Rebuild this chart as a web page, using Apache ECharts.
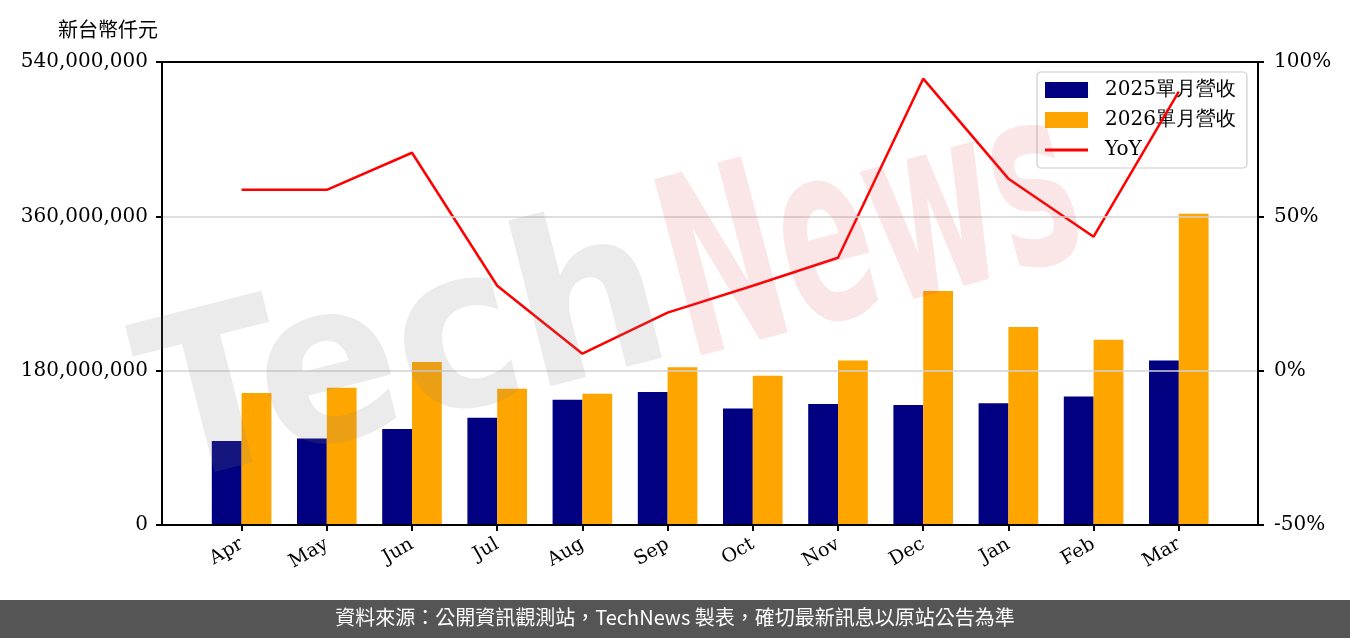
<!DOCTYPE html>
<html>
<head>
<meta charset="utf-8">
<script src="https://cdn.jsdelivr.net/npm/echarts@6/dist/echarts.min.js"></script>
<style>
html,body{margin:0;padding:0;background:#fff;}
#chart{width:1350px;height:638px;}
</style>
</head>
<body>
<div id="chart"></div>
<script>
const months = ['Apr','May','Jun','Jul','Aug','Sep','Oct','Nov','Dec','Jan','Feb','Mar'];
const rev2025 = [98000000,101000000,112000000,125000000,146000000,155000000,136000000,141000000,140000000,142000000,150000000,192000000];
const rev2026 = [154000000,160000000,190000000,159000000,153000000,184000000,174000000,192000000,273000000,231000000,216000000,363000000];
const yoy = [58.6,58.6,70.6,27.5,5.5,18.8,27.5,36.6,94.6,62.2,43.4,90.4];
const leftTicks = {min:0, max:540000000, interval:180000000};
const rightTicks = {min:-50, max:100, interval:50};
const seriesNames = ['2025單月營收','2026單月營收','YoY'];
const unitLabel = '新台幣仟元';
const footerText = '資料來源：公開資訊觀測站，TechNews 製表，確切最新訊息以原站公告為準';

const serif = '"DejaVu Serif", "Liberation Serif", serif';
const chart = echarts.init(document.getElementById('chart'));
const axisBlack = {show:true, onZero:false, lineStyle:{color:'#000', width:2}};
const tickBlack = {show:true, length:6, inside:false, lineStyle:{color:'#000', width:2}};
const hidden = {show:false};

chart.setOption({
  animation:false,
  backgroundColor:'#fff',
  title:{text:unitLabel, left:53, top:14,
    textStyle:{fontFamily:'"Noto Sans CJK TC", sans-serif', fontSize:20, fontWeight:'normal', color:'#000'}},
  legend:{
    orient:'vertical', left:1037, top:72, padding:[8,11,8,8], itemGap:10,
    itemWidth:43, itemHeight:16, z:1,
    backgroundColor:'rgba(255,255,255,0.8)', borderColor:'#cccccc', borderWidth:1.2, borderRadius:4,
    textStyle:{fontFamily:serif, fontSize:20, color:'#000', lineHeight:20, padding:[0,0,0,12]},
    data:[
      {name:seriesNames[0], icon:'rect'},
      {name:seriesNames[1], icon:'rect'},
      {name:seriesNames[2], icon:'path://M0,0 M0,16 M0,6.5 L43,6.5 L43,9.5 L0,9.5 Z'}
    ]
  },
  grid:[
    {left:162, top:62, width:1096, height:463},
    {left:199, top:62, width:1022.4, height:463}
  ],
  xAxis:[
    {gridIndex:0, type:'category', data:months, position:'bottom', z:10,
     axisLine:axisBlack, axisTick:hidden, axisLabel:hidden, splitLine:hidden},
    {gridIndex:0, type:'category', data:months, position:'top', z:10,
     axisLine:axisBlack, axisTick:hidden, axisLabel:hidden, splitLine:hidden},
    {gridIndex:1, type:'category', data:months, boundaryGap:true,
     axisLine:{show:false, onZero:false}, axisTick:Object.assign({alignWithLabel:true}, tickBlack),
     axisLabel:{rotate:30, fontFamily:serif, fontSize:19, color:'#000', margin:18, interval:0}}
  ],
  yAxis:[
    {gridIndex:0, type:'value', position:'left', min:leftTicks.min, max:leftTicks.max, interval:leftTicks.interval, z:10,
     axisLine:axisBlack, axisTick:tickBlack,
     axisLabel:{fontFamily:serif, fontSize:20, color:'#000', margin:14,
       formatter:v=>Number(v).toLocaleString('en-US')},
     splitLine:{show:true, lineStyle:{color:'#d3d3d3', width:1.5}}},
    {gridIndex:0, type:'value', position:'right', min:rightTicks.min, max:rightTicks.max, interval:rightTicks.interval, z:10,
     axisLine:axisBlack, axisTick:tickBlack,
     axisLabel:{fontFamily:serif, fontSize:20, color:'#000', margin:16, formatter:'{value}%'},
     splitLine:hidden},
    {gridIndex:1, type:'value', min:leftTicks.min, max:leftTicks.max, interval:leftTicks.interval, show:false, splitLine:hidden},
    {gridIndex:1, type:'value', min:rightTicks.min, max:rightTicks.max, interval:rightTicks.interval, show:false, splitLine:hidden}
  ],
  series:[
    {name:seriesNames[0], type:'bar', xAxisIndex:2, yAxisIndex:2, data:rev2025, barWidth:29.8, barGap:'0%',
     itemStyle:{color:'#000080'}},
    {name:seriesNames[1], type:'bar', xAxisIndex:2, yAxisIndex:2, data:rev2026, barWidth:29.8, barGap:'0%',
     itemStyle:{color:'#FFA500'}},
    {name:seriesNames[2], type:'line', xAxisIndex:2, yAxisIndex:3, data:yoy, symbol:'none', z:5,
     itemStyle:{color:'#FF0000'}, lineStyle:{color:'#FF0000', width:2.5}}
  ],
  graphic:[
    {type:'text', x:150, y:428, rotation:0.25, scaleX:0.93, z:100, silent:true,
     style:{text:'Tech', font:'bold 225px "DejaVu Sans"', fill:'rgba(128,128,128,0.16)', verticalAlign:'middle', align:'left'}},
    {type:'text', x:672, y:296, rotation:0.26, scaleX:0.55, z:100, silent:true,
     style:{text:'News', font:'bold 250px "DejaVu Sans"', fill:'rgba(220,60,70,0.13)', verticalAlign:'middle', align:'left'}},
    {type:'rect', left:0, top:600, z:100, shape:{width:1350, height:38}, style:{fill:'#555555'}},
    {type:'text', left:'center', top:607, z:101,
     style:{text:footerText, font:'20px "Noto Sans CJK TC"', fill:'#fff'}}
  ]
});
</script>
</body>
</html>
